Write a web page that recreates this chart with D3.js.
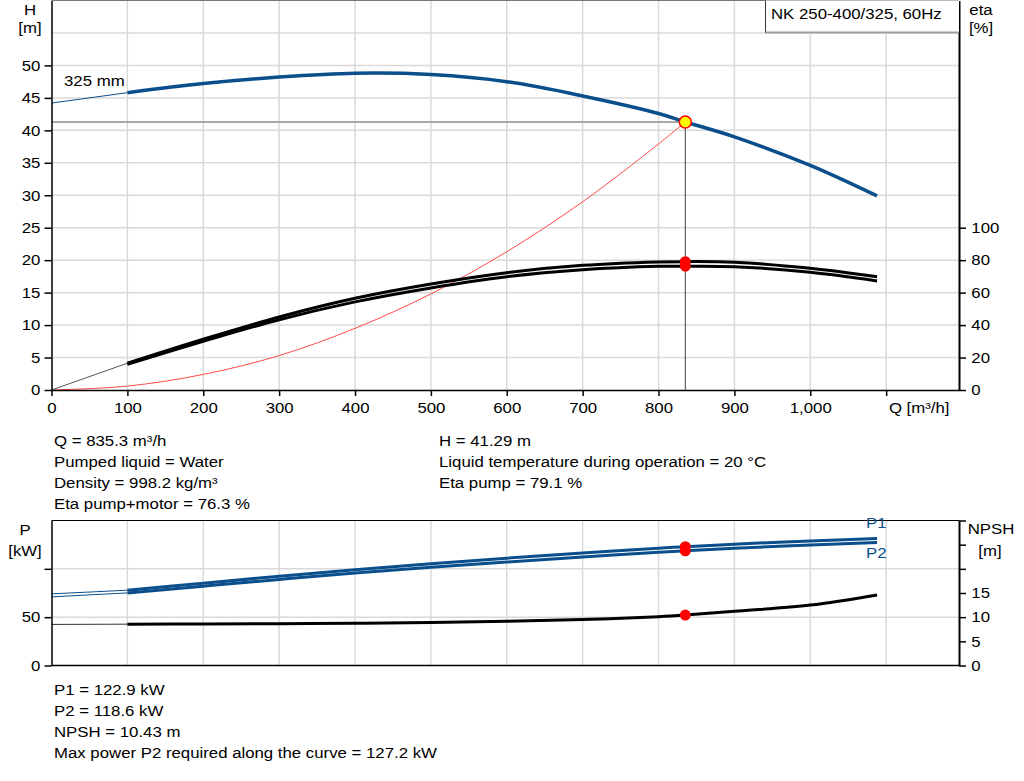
<!DOCTYPE html>
<html>
<head>
<meta charset="utf-8">
<script src="https://cdn.jsdelivr.net/npm/d3@7"></script>
<style>
  body { margin: 0; background: #fff; }
  svg { display: block; font-family: "Liberation Sans", Arial, sans-serif; font-size: 15px; }
</style>
</head>
<body>
<div id="chart"></div>
<script>
/* ── Data ─────────────────────────────────────────────── */

const flowQ     = [0, 100, 200, 300, 400, 500, 600, 700, 800, 835.3, 900, 1000, 1088];
const headH     = [44.2, 45.8, 47.2, 48.2, 48.8, 48.6, 47.5, 45.3, 42.6, 41.29, 39.0, 34.6, 29.9];
const etaPump   = [0, 16.5, 31.3, 45.0, 56.5, 65.3, 72.3, 76.8, 78.9, 79.1, 78.7, 75.0, 69.8];
const etaTotal  = [0, 15.8, 30.0, 43.3, 54.3, 62.9, 69.8, 74.1, 76.2, 76.3, 76.0, 72.5, 67.2];
const powerP1   = [74.1, 77.9, 85.2, 92.3, 99.1, 105.3, 111.0, 116.4, 121.4, 122.9, 125.5, 128.9, 131.4];
const powerP2   = [71.0, 75.1, 82.1, 89.0, 95.6, 101.6, 107.1, 112.3, 117.1, 118.6, 121.2, 124.7, 127.2];
const npshR     = [8.5, 8.55, 8.6, 8.65, 8.75, 8.9, 9.15, 9.5, 10.1, 10.43, 11.2, 12.5, 14.6];

const systemQ   = [0, 100, 200, 300, 400, 500, 600, 700, 800, 835.3];
const systemH   = [0, 0.6, 2.4, 5.3, 9.5, 14.8, 21.3, 29.0, 37.9, 41.29];

const opQ = 835.3, opH = 41.29, opEtaPump = 79.1, opEtaTotal = 76.3;
const opP1 = 122.9, opP2 = 118.6, opNpsh = 10.43;

const qTicks    = [0, 100, 200, 300, 400, 500, 600, 700, 800, 900, 1000, 1100];
const hTicks    = [0, 5, 10, 15, 20, 25, 30, 35, 40, 45, 50];
const hGrid     = [5, 10, 15, 20, 25, 30, 35, 40, 45, 50, 55];
const etaTicks  = [0, 20, 40, 60, 80, 100];
const pTicks    = [0, 50, 100];
const pLabels   = ['0', '50', ''];
const npshTicks = [0, 5, 10, 15, 20, 25, 30];
const npshLabelMax = 15;

const title      = 'NK 250-400/325, 60Hz';
const curveLabel = '325 mm';
const infoLeft   = ['Q = 835.3 m³/h', 'Pumped liquid = Water', 'Density = 998.2 kg/m³', 'Eta pump+motor = 76.3 %'];
const infoRight  = ['H = 41.29 m', 'Liquid temperature during operation = 20 °C', 'Eta pump = 79.1 %'];
const infoBottom = ['P1 = 122.9 kW', 'P2 = 118.6 kW', 'NPSH = 10.43 m', 'Max power P2 required along the curve = 127.2 kW'];

/* ── Layout ───────────────────────────────────────────── */

const W = 1024, H = 781;
const SX = 1.12;              // text in the sheet is slightly stretched horizontally
const BLUE = '#0a4f8c';
const GRID = '#dadada';

const left = 51.5, right = 959;
const top1 = 0.5, bot1 = 390;
const top2 = 520.5, bot2 = 665.5;

const x     = d3.scaleLinear().domain([0, 1196]).range([left, right]);
const yH    = d3.scaleLinear().domain([0, 60]).range([bot1, top1]);
const yEta  = d3.scaleLinear().domain([0, 240]).range([bot1, top1]);
const yP    = d3.scaleLinear().domain([0, 150]).range([bot2, top2]);
const yN    = d3.scaleLinear().domain([0, 30]).range([bot2, top2]);

const smooth = d3.curveCatmullRom.alpha(0.5);

const svg = d3.select('#chart').append('svg').attr('width', W).attr('height', H);
svg.append('rect').attr('width', W).attr('height', H).attr('fill', '#fff');

function addText(g, tx, ty, str, anchor, color) {
  return g.append('text')
    .attr('transform', `translate(${tx},${ty}) scale(${SX},1)`)
    .attr('text-anchor', anchor || 'start')
    .attr('fill', color || '#000')
    .text(str);
}

function styleAxis(g, width) {
  g.select('.domain').attr('stroke', '#000').attr('stroke-width', width);
  g.selectAll('.tick line').attr('stroke', '#000').attr('stroke-width', 1.5);
  g.selectAll('.tick text')
    .attr('font-size', 15)
    .attr('font-family', '"Liberation Sans", Arial, sans-serif')
    .attr('fill', '#000')
    .attr('transform', `scale(${SX},1)`);
}

const pts = (qs, vs) => qs.map((q, i) => ({ q, v: vs[i] }));

/* ── Top chart: H / eta ──────────────────────────────── */

const gTop = svg.append('g');

// grid
gTop.append('g').selectAll('line').data(qTicks.slice(1)).join('line')
  .attr('x1', d => x(d)).attr('x2', d => x(d)).attr('y1', top1).attr('y2', bot1)
  .attr('stroke', GRID).attr('stroke-width', 1.5);
gTop.append('g').selectAll('line').data(hGrid).join('line')
  .attr('x1', left).attr('x2', right).attr('y1', d => yH(d)).attr('y2', d => yH(d))
  .attr('stroke', GRID).attr('stroke-width', 1.5);

// top border
gTop.append('line').attr('x1', left).attr('x2', right).attr('y1', top1).attr('y2', top1)
  .attr('stroke', '#777').attr('stroke-width', 1);

// operating point guide lines
gTop.append('line').attr('x1', left).attr('x2', x(opQ)).attr('y1', yH(opH)).attr('y2', yH(opH))
  .attr('stroke', '#a8a8a8').attr('stroke-width', 2);
gTop.append('line').attr('x1', x(opQ)).attr('x2', x(opQ)).attr('y1', yH(opH)).attr('y2', bot1)
  .attr('stroke', '#444').attr('stroke-width', 1);

// system curve
const lineSys = d3.line().x(d => x(d.q)).y(d => yH(d.v)).curve(smooth);
gTop.append('path').datum(pts(systemQ, systemH)).attr('d', lineSys)
  .attr('fill', 'none').attr('stroke', '#ff4a4a').attr('stroke-width', 1);

// eta curves
const lineEta = d3.line().x(d => x(d.q)).y(d => yEta(d.v)).curve(smooth);
const etaP = pts(flowQ, etaPump), etaT = pts(flowQ, etaTotal);
gTop.append('path').datum(etaP.filter(d => d.q <= 100)).attr('d', lineEta)
  .attr('fill', 'none').attr('stroke', '#555').attr('stroke-width', 1);
[etaP, etaT].forEach(s => {
  gTop.append('path').datum(s.filter(d => d.q >= 100)).attr('d', lineEta)
    .attr('fill', 'none').attr('stroke', '#000').attr('stroke-width', 3);
});

// head curve
const lineH = d3.line().x(d => x(d.q)).y(d => yH(d.v)).curve(smooth);
const headPts = pts(flowQ, headH);
gTop.append('path').datum(headPts.filter(d => d.q <= 100)).attr('d', lineH)
  .attr('fill', 'none').attr('stroke', BLUE).attr('stroke-width', 1);
gTop.append('path').datum(headPts.filter(d => d.q >= 100)).attr('d', lineH)
  .attr('fill', 'none').attr('stroke', BLUE).attr('stroke-width', 3.5);

// eta points
[opEtaPump, opEtaTotal].forEach(v => {
  gTop.append('circle').attr('cx', x(opQ)).attr('cy', yEta(v)).attr('r', 5.5).attr('fill', '#ff0000');
});

// operating point
gTop.append('circle').attr('cx', x(opQ)).attr('cy', yH(opH)).attr('r', 6)
  .attr('fill', '#ffff00').attr('stroke', '#ff0000').attr('stroke-width', 1.5);

// axes
const axL = gTop.append('g').attr('transform', `translate(${left},0)`)
  .call(d3.axisLeft(yH).tickValues(hTicks).tickSize(7).tickPadding(3).tickSizeOuter(0));
styleAxis(axL, 1.5);

const axB = gTop.append('g').attr('transform', `translate(0,${bot1})`)
  .call(d3.axisBottom(x).tickValues(qTicks).tickSize(6).tickPadding(6).tickSizeOuter(0)
    .tickFormat(d => d === 1100 ? 'Q [m³/h]' : d3.format(',')(d)));
styleAxis(axB, 1.5);
axB.selectAll('.tick text').filter(d => d === 1100).attr('text-anchor', 'start').attr('x', 2);

const axR = gTop.append('g').attr('transform', `translate(${right},0)`)
  .call(d3.axisRight(yEta).tickValues(etaTicks).tickSize(7).tickPadding(4).tickSizeOuter(0));
styleAxis(axR, 2);

// title box
gTop.append('rect').attr('x', 765.5).attr('y', top1).attr('width', right - 765.5).attr('height', 32)
  .attr('fill', '#fff');
gTop.append('line').attr('x1', 765.5).attr('x2', 765.5).attr('y1', top1).attr('y2', 33)
  .attr('stroke', '#333').attr('stroke-width', 1);
gTop.append('line').attr('x1', 765.5).attr('x2', right).attr('y1', 32.5).attr('y2', 32.5)
  .attr('stroke', '#a0a0a0').attr('stroke-width', 2);
addText(gTop, 771, 19, title);

// axis titles and labels
addText(gTop, 30, 15, 'H', 'middle');
addText(gTop, 30, 33, '[m]', 'middle');
addText(gTop, 981, 15, 'eta', 'middle');
addText(gTop, 981, 33, '[%]', 'middle');
addText(gTop, 64, 86, curveLabel);

/* ── Info text ────────────────────────────────────────── */

infoLeft.forEach((s, i) => addText(svg, 54, 446 + i * 21, s));
infoRight.forEach((s, i) => addText(svg, 439, 446 + i * 21, s));
infoBottom.forEach((s, i) => addText(svg, 54, 695 + i * 21, s));

/* ── Bottom chart: P / NPSH ──────────────────────────── */

const gBot = svg.append('g');

gBot.append('g').selectAll('line').data(qTicks.slice(1)).join('line')
  .attr('x1', d => x(d)).attr('x2', d => x(d)).attr('y1', top2).attr('y2', bot2)
  .attr('stroke', GRID).attr('stroke-width', 1.5);
gBot.append('g').selectAll('line').data(pTicks.slice(1)).join('line')
  .attr('x1', left).attr('x2', right).attr('y1', d => yP(d)).attr('y2', d => yP(d))
  .attr('stroke', GRID).attr('stroke-width', 1.5);

gBot.append('line').attr('x1', left).attr('x2', right).attr('y1', top2).attr('y2', top2)
  .attr('stroke', '#000').attr('stroke-width', 1);
gBot.append('line').attr('x1', left).attr('x2', right).attr('y1', bot2).attr('y2', bot2)
  .attr('stroke', '#000').attr('stroke-width', 1.5);

// power curves
const lineP = d3.line().x(d => x(d.q)).y(d => yP(d.v)).curve(smooth);
[pts(flowQ, powerP1), pts(flowQ, powerP2)].forEach(s => {
  gBot.append('path').datum(s.filter(d => d.q <= 100)).attr('d', lineP)
    .attr('fill', 'none').attr('stroke', BLUE).attr('stroke-width', 1);
  gBot.append('path').datum(s.filter(d => d.q >= 100)).attr('d', lineP)
    .attr('fill', 'none').attr('stroke', BLUE).attr('stroke-width', 3);
});

// NPSH curve
const lineN = d3.line().x(d => x(d.q)).y(d => yN(d.v)).curve(smooth);
const npshPts = pts(flowQ, npshR);
gBot.append('path').datum(npshPts.filter(d => d.q <= 100)).attr('d', lineN)
  .attr('fill', 'none').attr('stroke', '#333').attr('stroke-width', 1);
gBot.append('path').datum(npshPts.filter(d => d.q >= 100)).attr('d', lineN)
  .attr('fill', 'none').attr('stroke', '#000').attr('stroke-width', 3);

// duty points
[opP1, opP2].forEach(v => {
  gBot.append('circle').attr('cx', x(opQ)).attr('cy', yP(v)).attr('r', 5.5).attr('fill', '#ff0000');
});
gBot.append('circle').attr('cx', x(opQ)).attr('cy', yN(opNpsh)).attr('r', 5.5).attr('fill', '#ff0000');

// axes
const axPL = gBot.append('g').attr('transform', `translate(${left},0)`)
  .call(d3.axisLeft(yP).tickValues(pTicks).tickSize(7).tickPadding(3).tickSizeOuter(0)
    .tickFormat((d, i) => pLabels[i]));
styleAxis(axPL, 1.5);

const axNR = gBot.append('g').attr('transform', `translate(${right},0)`)
  .call(d3.axisRight(yN).tickValues(npshTicks).tickSize(7).tickPadding(4).tickSizeOuter(0)
    .tickFormat(d => d <= npshLabelMax ? d : ''));
styleAxis(axNR, 2);

addText(gBot, 25, 535, 'P', 'middle');
addText(gBot, 25, 556, '[kW]', 'middle');
addText(gBot, 991, 534, 'NPSH', 'middle');
addText(gBot, 990, 556, '[m]', 'middle');
addText(gBot, 866, 528, 'P1', 'start', BLUE);
addText(gBot, 866, 558, 'P2', 'start', BLUE);
</script>
</body>
</html>
